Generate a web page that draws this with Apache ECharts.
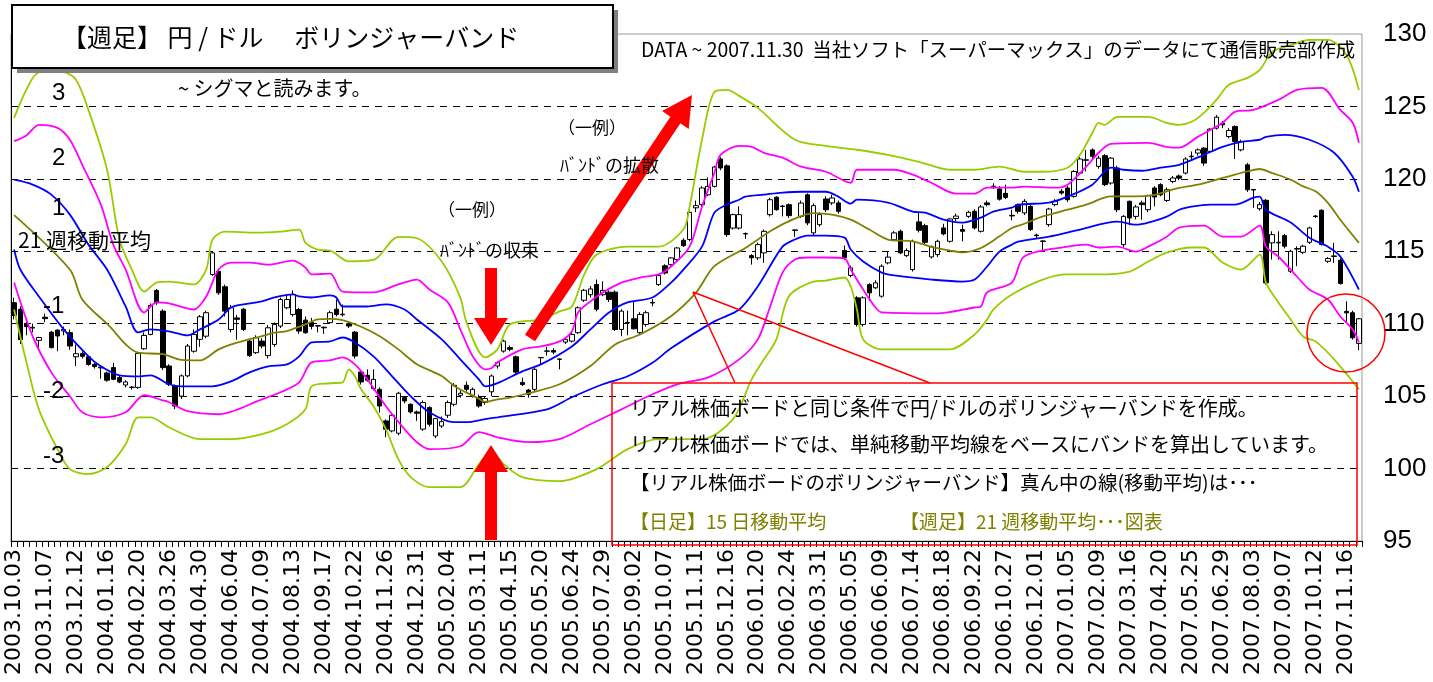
<!DOCTYPE html>
<html><head><meta charset="utf-8">
<script src="https://cdn.jsdelivr.net/npm/echarts@6/dist/echarts.min.js"></script>
<style>html,body{margin:0;padding:0;background:#fff}#c{width:1433px;height:682px}</style>
</head><body><div id="c"></div>
<script>
// ---- data ----
const startDate = '2003-10-03';
const weekCount = 218;
const yTicks = [95,100,105,110,115,120,125,130];
// weekly candles [open, close, low, high]
const ohlc = [
[111.45,110.57,110.3,111.8],[111.0,108.9,108.6,111.2],[110.0,109.8,109.2,110.4],[109.7,109.75,109.4,110.0],[108.85,109.05,108.2,109.1],
[110.45,110.35,110.1,110.7],[109.42,108.35,108.3,109.5],[109.56,109.15,108.1,109.6],[109.5,109.6,109.2,109.8],[109.38,108.46,108.2,109.6],
[107.72,107.93,107.08,108.57],[107.95,107.75,107.6,108.1],[107.72,107.19,107.1,107.8],[107.19,107.04,106.9,107.3],[107.0,106.95,106.2,107.1],
[106.6,106.1,106.0,106.7],[106.97,106.16,106.1,107.3],[106.28,105.98,105.9,106.4],[105.77,105.98,105.6,106.1],[105.6,105.62,105.45,105.7],
[105.6,107.95,105.5,108.0],[108.27,109.19,108.2,109.4],[109.26,111.26,109.2,111.4],[112.3,111.45,111.3,112.4],[110.87,106.97,106.8,111.0],
[107.08,105.82,105.7,107.2],[105.7,104.32,104.1,105.8],[105.0,106.4,104.8,106.5],[106.4,108.46,106.3,108.6],[108.1,109.26,108.0,109.6],
[108.92,110.48,108.4,110.6],[109.14,110.76,109.0,110.9],[113.4,114.89,113.3,115.0],[113.62,112.13,112.0,113.8],[112.55,110.87,110.5,112.7],
[109.6,111.1,109.4,111.3],[110.4,110.3,108.9,110.6],[111.0,109.6,109.5,111.1],[108.8,107.8,107.7,108.9],[108.0,109.03,107.9,109.2],
[108.8,108.46,108.3,109.0],[107.8,109.72,107.6,109.9],[108.57,109.95,108.4,110.1],[109.84,111.67,109.7,111.8],[111.1,111.67,111.0,112.0],
[110.64,112.02,110.5,112.3],[110.98,109.49,109.3,111.1],[110.25,109.38,109.3,110.5],[110.09,109.82,109.6,110.4],[109.86,109.84,109.4,109.9],
[109.76,109.72,109.3,109.8],[110.07,110.76,110.0,110.9],[111.0,110.64,110.5,111.67],[110.62,110.66,110.5,111.33],[110.0,109.84,109.7,110.1],
[109.42,107.77,107.6,109.5],[106.66,105.98,105.8,106.8],[106.44,106.1,106.0,106.85],[105.52,106.16,105.4,106.85],[105.47,104.32,103.87,105.6],
[103.29,102.72,102.16,103.4],[102.6,103.68,102.5,103.8],[102.44,105.2,102.3,105.3],[104.9,104.67,104.5,105.0],[104.44,103.91,103.8,104.5],
[103.91,103.82,103.29,104.0],[102.72,104.56,102.6,104.7],[104.21,103.06,102.9,104.3],[102.25,103.45,102.1,103.5],[102.94,103.24,102.8,103.6],
[103.68,104.56,103.5,104.7],[104.44,105.75,104.3,105.9],[105.06,105.2,104.9,105.4],[105.75,105.47,105.3,106.0],[105.06,105.47,104.9,105.6],
[104.9,104.32,104.2,105.1],[104.56,104.84,104.4,105.0],[105.3,106.39,105.0,106.5],[107.08,107.31,106.9,107.4],[108.11,108.8,108.0,108.9],
[108.35,108.23,108.1,108.5],[107.72,106.66,106.5,107.8],[105.95,105.8,105.7,106.28],[105.42,105.13,104.9,105.5],[105.47,106.85,105.3,107.0],
[107.67,107.65,107.19,107.7],[108.1,108.12,107.8,108.4],[108.15,108.04,107.9,108.3],[107.56,107.54,106.85,107.6],[108.73,108.92,108.6,109.0],
[108.8,109.26,108.7,109.4],[109.38,111.1,109.3,111.2],[111.62,112.31,111.5,112.4],[112.0,112.4,111.8,112.6],[112.7,111.0,110.85,113.05],
[112.0,112.3,111.9,112.93],[112.18,111.67,111.5,112.3],[112.18,109.6,109.5,112.3],[109.6,110.87,109.14,111.0],[110.05,110.09,109.2,110.9],
[110.34,109.65,109.6,111.56],[109.38,110.64,109.3,110.8],[109.95,110.76,109.8,110.9],[111.43,111.47,111.2,111.7],[112.7,113.33,112.6,113.4],
[114.0,113.5,113.4,114.1],[114.08,114.54,114.0,114.6],[114.43,115.23,114.3,115.3],[115.76,115.39,115.3,115.9],[115.81,117.69,115.7,117.8],
[118.0,118.15,117.7,118.5],[118.22,119.37,118.1,119.5],[118.9,119.48,118.8,120.1],[119.48,120.82,119.4,120.9],[121.37,120.75,120.6,121.5],
[120.9,116.15,116.0,121.0],[116.6,117.53,116.5,117.6],[116.6,117.53,116.5,118.1],[116.22,116.2,115.86,116.3],[114.7,114.55,114.08,114.8],
[114.55,115.46,114.4,115.6],[114.89,116.38,114.2,116.5],[117.53,118.56,117.4,118.7],[118.73,117.87,117.8,118.8],[118.12,118.1,117.41,118.2],
[118.22,117.46,117.3,118.3],[116.47,116.45,116.0,116.5],[117.41,118.33,117.3,118.5],[118.9,116.96,116.8,119.0],[116.27,118.15,116.1,118.3],
[116.84,117.53,116.7,117.7],[118.61,117.87,117.7,118.8],[118.34,118.68,118.2,118.9],[118.34,117.76,117.6,118.5],[115.05,114.55,114.4,115.4],
[113.33,113.86,113.2,114.0],[111.79,109.95,109.8,111.9],[109.95,111.79,109.8,111.9],[112.7,112.13,111.56,112.8],[112.48,112.82,112.4,113.0],
[111.9,113.97,111.8,114.1],[114.2,114.6,114.1,115.0],[115.8,116.27,115.7,116.4],[116.38,114.89,114.8,116.5],[114.7,115.05,114.6,115.2],
[113.74,115.69,113.6,115.8],[117.03,116.45,116.3,117.65],[116.77,115.62,115.5,116.9],[114.61,115.31,114.5,115.4],[114.77,115.69,114.6,115.8],
[116.61,116.2,116.1,116.9],[115.69,117.23,115.6,117.3],[117.26,117.43,117.1,117.6],[116.5,116.38,115.69,116.84],[117.41,117.69,117.3,117.8],
[117.76,116.61,116.5,117.9],[116.38,118.06,116.3,118.2],[118.34,118.22,118.1,118.5],[119.45,119.49,119.3,119.7],[119.3,118.6,118.5,119.5],
[119.0,118.72,118.6,119.6],[117.48,117.44,117.14,117.87],[118.22,117.76,117.6,118.3],[117.65,118.45,117.5,118.6],[118.1,116.5,116.4,118.2],
[116.12,116.08,115.92,116.22],[115.71,115.69,115.0,115.75],[116.84,117.92,116.7,118.0],[118.22,118.45,118.1,118.6],[119.14,119.02,118.9,119.3],
[119.37,118.56,118.4,119.5],[118.79,120.51,118.7,120.6],[120.4,121.37,120.3,121.5],[121.28,121.32,120.51,122.0],[122.0,121.55,121.4,122.1],
[120.86,121.43,120.7,121.6],[121.6,119.6,119.5,121.7],[119.71,121.43,119.6,121.5],[120.75,117.87,117.7,120.9],[115.46,117.41,115.3,117.5],
[118.45,117.3,116.8,118.5],[117.41,118.06,117.2,118.2],[118.34,118.22,117.18,118.5],[117.87,118.84,117.7,118.9],[119.37,118.75,118.1,119.5],
[119.6,118.9,118.8,119.7],[118.51,119.25,118.4,119.4],[119.82,120.06,119.7,120.2],[120.2,120.05,119.9,120.3],[120.4,121.37,120.3,121.5],
[121.53,121.57,121.32,121.89],[121.78,122.0,121.6,122.1],[122.12,121.09,120.9,122.2],[121.9,123.43,121.8,123.5],[123.5,124.26,123.4,124.4],
[123.85,123.73,123.5,124.0],[122.92,123.34,122.8,123.5],[123.61,122.58,121.37,123.7],[122.0,122.58,121.9,122.7],[120.97,119.25,119.1,121.1],
[119.27,119.23,118.0,119.3],[117.94,118.22,117.8,118.4],[118.52,112.82,112.7,118.6],[115.58,116.15,114.43,116.38],[115.58,115.62,114.43,116.38],
[116.08,115.35,115.2,116.2],[113.62,115.0,113.5,115.1],[115.15,115.19,113.97,115.35],[114.93,115.35,114.8,115.45],[115.62,116.61,115.5,116.7],
[117.43,117.41,117.3,117.5],[117.83,115.46,115.4,117.9],[114.31,114.5,114.2,114.6],[114.64,114.68,114.2,115.58],[114.38,112.78,112.7,114.5],
[110.85,110.75,110.07,111.55],[110.76,109.03,108.9,110.9],[108.64,110.34,108.18,110.4]
];
// band lines: [week index, price]
const ma21 = [[0,117.5],[9,113.74],[11,111.67],[15,110.0],[20,108.0],[24,107.9],[27,107.5],[30,107.47],[33,108.23],[36,108.69],[40,109.14],[42,109.38],[44,109.49],[47,109.95],[49,110.3],[51,110.34],[53,110.25],[56,109.79],[59,109.14],[62,108.23],[65,107.2],[69,106.39],[71,105.7],[73,105.24],[75,104.83],[76,104.6],[78,104.78],[80,104.9],[83,105.2],[88,105.82],[93,107.08],[97,108.57],[101,109.26],[106,110.52],[110,112.13],[113,113.97],[118,115.23],[122,116.38],[125,117.07],[129,117.64],[132,117.53],[135,117.18],[138,116.5],[141,115.81],[145,115.69],[148,115.3],[151,115.05],[153,114.93],[156,115.23],[159,116.03],[161,116.61],[163,116.9],[166,117.41],[170,117.87],[173,118.22],[177,118.79],[181,118.79],[184,118.9],[186,119.14],[188,119.37],[191,119.6],[195,120.06],[199,120.51],[201,120.68],[203,120.4],[206,119.94],[208,119.48],[210,119.14],[212,118.34],[214,117.18],[217,115.58]];
const up1 = [[0,119.94],[3,119.6],[6,118.91],[9,117.53],[12,115.46],[15,113.74],[18,111.19],[20,109.4],[22,109.61],[25,109.47],[28,109.19],[30,109.61],[33,110.29],[35,111.12],[37,111.33],[40,111.54],[42,111.81],[45,112.02],[46,111.88],[48,111.81],[51,111.95],[52,111.81],[53,111.19],[57,111.19],[60,111.33],[63,110.98],[65,110.29],[69,108.92],[72,107.54],[75,106.16],[76,105.68],[78,105.9],[82,106.71],[85,107.19],[90,108.43],[93,109.61],[96,110.78],[99,111.47],[103,111.81],[106,112.84],[108,113.74],[111,115.32],[113,117.67],[115,118.22],[117,118.56],[118,118.77],[121,118.91],[124,119.05],[127,119.11],[131,119.11],[133,118.77],[135,118.29],[136,118.56],[141,118.36],[145,117.74],[147,117.67],[150,117.18],[153,116.98],[156,117.32],[158,117.74],[161,118.01],[162,118.22],[167,118.36],[170,118.77],[174,119.6],[177,120.77],[179,120.63],[182,120.56],[185,120.77],[188,120.97],[192,121.66],[195,122.21],[198,122.56],[201,122.7],[202,122.9],[205,123.04],[209,122.7],[213,121.8],[216,120.15],[217,119.11]];
const dn1 = [[0,115.12],[1,113.74],[4,111.88],[8,109.61],[12,107.75],[14,107.06],[17,106.44],[20,106.37],[22,106.44],[25,105.82],[27,105.68],[32,105.68],[35,106.02],[38,106.64],[41,107.06],[44,107.19],[46,107.75],[48,108.71],[51,108.78],[53,109.05],[55,108.71],[58,107.75],[61,106.37],[64,104.99],[67,103.89],[71,103.2],[73,103.2],[76,103.41],[78,103.54],[86,104.09],[90,104.92],[95,105.82],[99,106.37],[103,107.3],[106,108.3],[113,110.16],[117,110.98],[120,112.57],[124,115.32],[126,115.81],[128,116.08],[131,116.08],[134,115.94],[135,115.12],[137,114.29],[140,113.53],[142,113.33],[148,113.05],[153,112.91],[155,113.05],[157,113.95],[159,114.98],[161,115.46],[162,115.67],[167,116.01],[172,116.5],[178,117.05],[181,116.84],[183,116.98],[186,117.39],[188,117.87],[190,118.08],[193,118.22],[197,118.22],[200,118.7],[201,118.77],[202,117.87],[206,116.98],[209,115.94],[212,115.32],[214,114.64],[217,112.36]];
const up2 = [[0,122.6],[2,123.0],[4,123.73],[7,123.52],[9,122.7],[11,120.97],[14,118.22],[16,115.46],[18,113.74],[21,110.78],[23,111.47],[25,111.4],[29,110.98],[31,111.88],[33,113.74],[35,114.22],[38,114.22],[41,114.08],[45,114.36],[47,113.88],[48,113.4],[51,113.46],[53,112.22],[58,112.16],[62,112.71],[65,113.05],[67,112.36],[70,111.47],[72,109.61],[74,107.75],[76,106.85],[77,106.92],[78,107.33],[82,108.23],[85,108.43],[88,108.78],[90,109.47],[91,110.78],[93,111.54],[95,112.16],[98,112.84],[101,113.19],[104,113.4],[106,113.95],[109,115.32],[111,118.08],[113,120.42],[114,121.66],[117,122.28],[119,122.21],[121,121.8],[124,121.46],[127,120.84],[131,120.49],[135,119.73],[136,120.63],[142,120.63],[145,120.29],[148,119.73],[152,118.98],[155,118.98],[157,119.39],[161,119.39],[163,119.46],[168,119.39],[170,119.6],[173,120.84],[175,121.8],[177,122.42],[183,122.49],[186,122.21],[188,122.15],[191,122.9],[195,123.87],[197,124.63],[200,124.76],[204,125.45],[207,126.14],[211,126.28],[214,124.76],[216,123.87],[217,122.49]];
const dn2 = [[0,112.84],[3,109.12],[6,106.64],[9,104.99],[11,103.89],[14,103.54],[18,103.89],[21,105.06],[24,104.71],[25,104.58],[28,103.96],[33,103.75],[40,104.78],[43,105.27],[46,105.95],[48,107.33],[51,107.47],[53,107.68],[55,107.19],[57,106.16],[60,104.3],[63,102.72],[65,101.82],[67,101.34],[72,101.54],[75,102.51],[78,102.16],[83,101.82],[88,102.03],[93,103.06],[98,104.09],[103,105.13],[107,105.82],[112,106.3],[117,107.54],[120,108.92],[122,111.19],[124,113.53],[126,114.43],[128,114.57],[131,114.57],[134,114.5],[135,113.74],[137,112.36],[139,111.12],[140,110.78],[149,110.71],[155,111.12],[156,111.19],[157,112.16],[161,112.84],[163,114.64],[170,115.32],[173,115.46],[175,115.26],[178,115.32],[181,114.98],[183,115.32],[186,116.01],[188,116.63],[192,116.77],[195,116.01],[198,116.01],[201,116.77],[202,115.32],[204,114.64],[207,113.26],[209,112.36],[212,111.67],[214,110.5],[216,109.61],[217,108.71]];
const up3 = [[0,124.21],[3,126.97],[5,127.52],[8,127.38],[10,126.83],[12,124.76],[15,120.63],[17,115.81],[19,113.74],[21,112.22],[23,112.84],[25,112.91],[29,112.71],[31,113.74],[32,115.81],[34,116.36],[39,116.29],[43,116.36],[46,116.5],[47,115.6],[49,115.12],[51,115.05],[54,114.3],[58,114.4],[62,116.0],[65,115.9],[69,114.3],[72,111.8],[73,110.09],[76,107.68],[78,108.23],[80,109.95],[85,110.29],[88,110.85],[90,111.19],[92,113.4],[94,114.77],[99,115.32],[104,115.32],[108,116.5],[109,118.08],[111,122.7],[113,126.0],[115,126.14],[117,125.73],[120,124.9],[126,122.7],[131,122.28],[136,122.01],[141,121.66],[146,121.18],[151,120.63],[155,120.63],[159,120.84],[163,120.49],[166,120.49],[170,120.77],[172,121.66],[174,123.18],[175,123.87],[176,123.73],[178,124.28],[183,124.28],[186,123.87],[188,123.73],[190,123.94],[192,124.56],[194,125.45],[196,126.49],[199,126.97],[201,127.52],[203,128.76],[206,129.24],[209,129.59],[212,129.59],[215,128.55],[217,126.14]];
const dn3 = [[0,110.98],[2,107.33],[4,104.09],[7,101.34],[9,99.96],[12,99.62],[15,100.1],[18,101.68],[20,103.54],[22,103.54],[25,102.85],[30,102.03],[35,102.03],[40,102.37],[44,103.06],[47,104.09],[48,105.68],[51,105.89],[53,105.95],[54,106.85],[55,106.37],[56,105.47],[58,104.3],[60,102.72],[62,100.65],[64,99.41],[67,98.72],[72,98.72],[75,100.3],[77,101.2],[79,100.3],[82,99.41],[88,99.13],[94,99.96],[99,101.34],[104,102.03],[111,102.03],[116,103.41],[119,106.16],[121,107.54],[123,108.92],[125,111.88],[129,112.91],[131,112.98],[134,113.19],[135,112.57],[136,110.98],[137,108.92],[140,108.23],[151,108.23],[155,109.26],[157,110.29],[158,110.98],[161,112.02],[166,113.05],[170,113.4],[175,113.4],[180,113.6],[183,114.29],[186,114.91],[190,115.26],[192,115.26],[195,114.22],[198,113.74],[201,114.77],[202,112.84],[204,111.47],[206,110.29],[208,109.12],[210,108.78],[213,107.54],[217,105.47]];

// ---- categories (weekly Fridays) ----
const dates = [];
{
  const d = new Date(startDate + 'T00:00:00Z');
  for (let i = 0; i < weekCount; i++) {
    const y = d.getUTCFullYear(), m = String(d.getUTCMonth()+1).padStart(2,'0'), dd = String(d.getUTCDate()).padStart(2,'0');
    dates.push(y + '.' + m + '.' + dd);
    d.setUTCDate(d.getUTCDate() + 7);
  }
}

const JP = '"Noto Sans CJK JP"';
const NUM = '"Liberation Sans Narrow","Liberation Sans",Arial,sans-serif';
const chart = echarts.init(document.getElementById('c'), null, {renderer:'canvas'});

function band(data, color, w) {
  return { type:'line', data:data, showSymbol:false, symbol:'none', smooth:0.3, z:3,
           lineStyle:{color:color, width:w}, itemStyle:{color:color}, silent:true };
}
function txt(x, y, text, size, color, family) {
  return { type:'text', x:x, y:y, z:120, silent:true,
    style:{ text:text, font: size + 'px ' + (family || JP), fill: color || '#000',
            textVerticalAlign:'middle', verticalAlign:'middle' } };
}
const splitColors = yTicks.map((v,i) => (i === 0 || i === yTicks.length-1) ? 'rgba(0,0,0,0)' : '#000');

const option = {
  animation:false,
  backgroundColor:'#fff',
  grid:{ left:11, right:71, top:34, bottom:141, show:true, borderColor:'#999', borderWidth:1, backgroundColor:'transparent' },
  xAxis:{ type:'category', data:dates, boundaryGap:true,
    axisLine:{ show:true, lineStyle:{color:'#000', width:1} },
    axisTick:{ show:true, interval:0, length:6, lineStyle:{color:'#000'} },
    axisLabel:{ interval:4, rotate:90, margin:8, color:'#000', fontSize:22, fontFamily:'"DejaVu Sans"' },
    splitLine:{show:false} },
  yAxis:[
    { type:'value', position:'right', min:95, max:130, interval:5,
      axisLine:{show:false}, axisTick:{show:false},
      axisLabel:{ color:'#000', fontSize:26, fontFamily:NUM, margin:21 },
      splitLine:{ show:true, lineStyle:{ color:splitColors, type:[7,6], width:1 } } },
    { type:'value', position:'left', min:95, max:130, interval:5,
      axisLine:{show:true, lineStyle:{color:'#000', width:1}}, axisTick:{show:false},
      axisLabel:{show:false}, splitLine:{show:false} }
  ],
  series:[
    { type:'candlestick', data:ohlc, barWidth:5, z:2, silent:true,
      itemStyle:{ color:'#fff', color0:'#000', borderColor:'#000', borderColor0:'#000', borderWidth:1 } },
    band(up3, '#99cc00', 1.8),
    band(dn3, '#99cc00', 1.8),
    band(up2, '#ff00ff', 1.8),
    band(dn2, '#ff00ff', 1.8),
    band(up1, '#0000ff', 1.8),
    band(dn1, '#0000ff', 1.8),
    band(ma21, '#808000', 1.8)
  ],
  graphic:{ elements:[
    // title box with shadow
    { type:'rect', z:110, shape:{x:17, y:10, width:601, height:63}, style:{fill:'#808080'} },
    { type:'rect', z:111, shape:{x:12, y:5, width:601, height:63}, style:{fill:'#fff', stroke:'#000', lineWidth:2} },
    txt(62, 37, '【週足】 円 / ドル　 ボリンジャーバンド', 25),
    txt(641, 50, 'DATA ~ 2007.11.30  当社ソフト「スーパーマックス」のデータにて通信販売部作成', 19.4),
    txt(178, 88, '~ シグマと読みます。', 20),
    txt(18, 240, '21 週移動平均', 21),
    txt(558, 128, '（一例）', 17),
    txt(560, 165, 'ﾊﾞﾝﾄﾞの拡散', 18),
    txt(438, 210, '（一例）', 17),
    txt(440, 250, 'ﾊﾞﾝﾄﾞの収束', 18),
    txt(52, 93, '3', 24, '#000', NUM),
    txt(52, 158, '2', 24, '#000', NUM),
    txt(52, 208, '1', 24, '#000', NUM),
    txt(43, 306, '-1', 24, '#000', NUM),
    txt(43, 391, '-2', 24, '#000', NUM),
    txt(43, 456, '-3', 24, '#000', NUM),
    // red arrows
    { type:'polygon', z:115, shape:{points:[[485,268],[497,268],[497,318],[508,318],[491,345],[474,318],[485,318]]}, style:{fill:'#ff0000'} },
    { type:'polygon', z:115, shape:{points:[[491,445],[508,472],[497,472],[497,540],[485,540],[485,472],[474,472]]}, style:{fill:'#ff0000'} },
    { type:'polygon', z:115, shape:{points:[[525,334.7],[670.4,116.7],[662.1,111.1],[692,95],[688.7,128.9],[680.4,123.3],[535,341.3]]}, style:{fill:'#ff0000'} },
    // callout
    { type:'line', z:115, shape:{x1:693, y1:292, x2:735, y2:383}, style:{stroke:'#ff0000', lineWidth:1.5} },
    { type:'line', z:115, shape:{x1:693, y1:292, x2:930, y2:383}, style:{stroke:'#ff0000', lineWidth:1.5} },
    { type:'rect', z:115, shape:{x:612, y:383, width:745, height:162}, style:{fill:'none', stroke:'#ff0000', lineWidth:1.5} },
    { type:'circle', z:115, shape:{cx:1346, cy:333, r:39}, style:{fill:'none', stroke:'#ff0000', lineWidth:1.5} },
    txt(630, 408, 'リアル株価ボードと同じ条件で円/ドルのボリンジャーバンドを作成。', 20),
    txt(630, 444, 'リアル株価ボードでは、単純移動平均線をベースにバンドを算出しています。', 20),
    txt(630, 483, '【リアル株価ボードのボリンジャーバンド】真ん中の線(移動平均)は･･･', 19.5),
    txt(630, 522, '【日足】15 日移動平均', 19, '#808000'),
    txt(900, 522, '【週足】21 週移動平均･･･図表', 19, '#808000')
  ]}
};
chart.setOption(option);
</script>
</body></html>
